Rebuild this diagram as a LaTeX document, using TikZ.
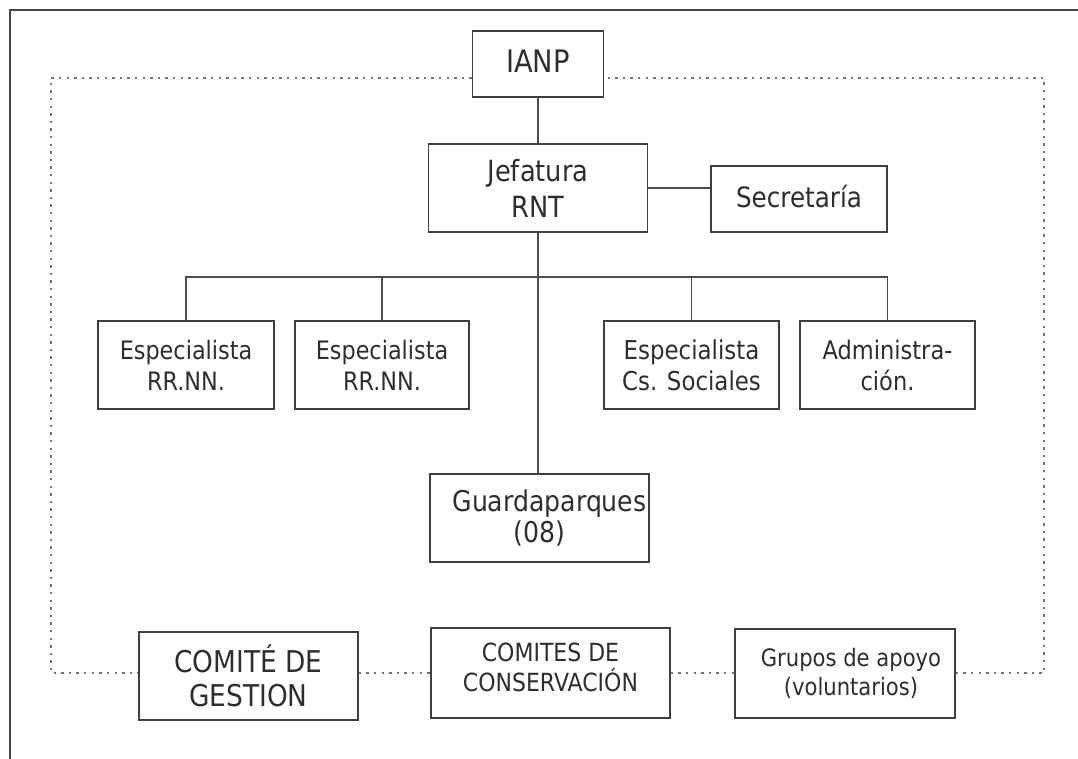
\documentclass[tikz,border=0pt]{standalone}
\usepackage{fontspec}
\setmainfont{DejaVu Sans}[FakeStretch=0.88]
\begin{document}
\begin{tikzpicture}[x=0.5pt,y=-0.5pt,
  box/.style={draw=black!75, line width=0.8pt, inner sep=0pt, align=center, text=black!82},
  link/.style={draw=black!70, line width=0.7pt},
  dotline/.style={draw=black!55, line width=0.9pt, dash pattern=on 1.2pt off 2.6pt},
  frameline/.style={draw=black!72, line width=1.4pt}]
\useasboundingbox (0,0) rectangle (1078,759);
% outer frame
\draw[frameline] (10,759) -- (10,10) -- (1078,10);
% boxes
\node[box, minimum width=65.5pt, minimum height=33pt, font=\fontsize{15.5}{18}\selectfont] (IANP) at (538,64) {\raisebox{2.5pt}{IANP}};
\node[box, minimum width=109.5pt, minimum height=44pt, font=\fontsize{14.6}{18}\selectfont] (Jef) at (538,188) {Jefatura\\RNT};
\node[box, minimum width=88pt, minimum height=33pt, font=\fontsize{14}{17}\selectfont] (Sec) at (799,199) {\raisebox{2.5pt}{Secretaría}};
\node[box, minimum width=88pt, minimum height=44pt, font=\fontsize{12.7}{15.5}\selectfont] (Esp1) at (186,365) {Especialista\\RR.NN.};
\node[box, minimum width=87pt, minimum height=44pt, font=\fontsize{12.7}{15.5}\selectfont] (Esp2) at (382,365) {Especialista\\RR.NN.};
\node[box, minimum width=87.5pt, minimum height=44pt, font=\fontsize{13}{15.5}\selectfont] (CsS) at (691.5,365) {Especialista\\Cs. Sociales};
\node[box, minimum width=87.5pt, minimum height=44pt, font=\fontsize{12.8}{15.5}\selectfont] (Adm) at (887.5,365) {Administra-\\ción.};
\node[box, minimum width=109.5pt, minimum height=44pt, font=\fontsize{14.3}{15.5}\selectfont] (Gua) at (539.5,518) {\hspace*{10pt}Guardaparques\\(08)};
\node[box, minimum width=109.5pt, minimum height=44pt, font=\fontsize{15}{17}\selectfont] (Com) at (248.5,676) {COMITÉ DE\\GESTION};
\node[box, minimum width=119.5pt, minimum height=45pt,
  label={[align=center, text=black!82, inner sep=0pt, yshift=3pt, font=\fontsize{12.5}{15}\selectfont]center:COMITES DE\\CONSERVACIÓN}] (Cons) at (550.5,673) {};
\node[box, minimum width=110pt, minimum height=44.5pt, font=\fontsize{12}{14.5}\selectfont] (Gru) at (845,673.5) {\hspace*{6pt}Grupos de apoyo\\\hspace*{6pt}(voluntarios)};
% connectors
\coordinate (bus) at (538,277);
\draw[link] (IANP.south) -- (Jef.north);
\draw[link] (Jef.east) -- (Jef.east -| Sec.west);
\draw[link] (Jef.south) -- (Jef.south |- Gua.north);
\draw[link] (Esp1.north) -- (Esp1.north |- bus) -- (Adm.north |- bus) -- (Adm.north);
\draw[link] (Esp2.north) -- (Esp2.north |- bus);
\draw[link] (CsS.north) -- (CsS.north |- bus);
% dotted boundary
\coordinate (dTL) at (51,78);
\coordinate (dTR) at (1044,78);
\coordinate (dBL) at (51,673);
\coordinate (dBR) at (1044,673);
\draw[dotline] (IANP.west |- dTL) -- (dTL) -- (dBL) -- (Com.west |- dBL);
\draw[dotline] (Com.east |- dBL) -- (Cons.west |- dBL);
\draw[dotline] (Cons.east |- dBL) -- (Gru.west |- dBL);
\draw[dotline] (Gru.east |- dBR) -- (dBR) -- (dTR) -- (IANP.east |- dTR);
\end{tikzpicture}
\end{document}
